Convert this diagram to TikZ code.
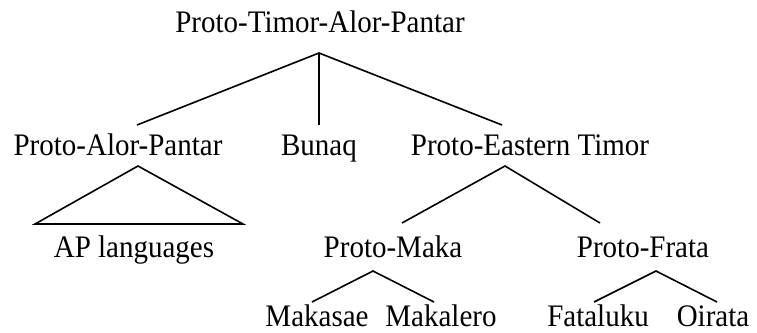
\documentclass[tikz,border=0pt]{standalone}
\usepackage{fontspec}
\usepackage{graphicx}
\setmainfont{Liberation Serif}
\newcommand{\tallt}[1]{\scalebox{1}[1.08]{#1}}
\begin{document}
\begin{tikzpicture}[x=1pt,y=1pt,
  lbl/.style={anchor=base,inner sep=0pt,font=\fontsize{29}{34}\selectfont},
  branch/.style={draw=black,line width=1.6pt,line cap=butt}]
\useasboundingbox (0,0) rectangle (757,-332);
% texts
\node[lbl] (pta) at (320,-32) {\tallt{Proto-Timor-Alor-Pantar}};
\node[lbl] (pap) at (118,-155) {\tallt{Proto-Alor-Pantar}};
\node[lbl] (bun) at (319,-155) {\tallt{Bunaq}};
\node[lbl] (pet) at (530,-155) {\tallt{Proto-Eastern Timor}};
\node[lbl] (apl) at (134,-257) {\tallt{AP languages}};
\node[lbl] (pmk) at (393,-257) {\tallt{Proto-Maka}};
\node[lbl] (pfr) at (643,-257) {\tallt{Proto-Frata}};
\node[lbl] (mks) at (317,-326) {\tallt{Makasae}};
\node[lbl] (mkl) at (441,-326) {\tallt{Makalero}};
\node[lbl] (fat) at (598,-326) {\tallt{Fataluku}};
\node[lbl] (oir) at (713,-326) {\tallt{Oirata}};
% connector points
\coordinate (ptaB) at (319,-53);
\coordinate (papT) at (137,-125);
\coordinate (bunT) at (319,-125);
\coordinate (petT) at (502,-125);
\coordinate (papB) at (138,-166);
\coordinate (aplL) at (35,-224);
\coordinate (aplR) at (243,-224);
\coordinate (petB) at (505,-166);
\coordinate (pmkT) at (402,-223);
\coordinate (pfrT) at (600,-223);
\coordinate (pmkB) at (373,-271);
\coordinate (mksT) at (312,-302);
\coordinate (mklT) at (434,-302);
\coordinate (pfrB) at (656,-271);
\coordinate (fatT) at (594,-302);
\coordinate (oirT) at (717,-302);
% connectors
\draw[branch] (papT) -- (ptaB) -- (petT);
\draw[branch] (ptaB) -- (bunT);
\draw[branch,line join=miter] (papB) -- (aplL) -- (aplR) -- cycle;
\draw[branch] (pmkT) -- (petB) -- (pfrT);
\draw[branch] (mksT) -- (pmkB) -- (mklT);
\draw[branch] (fatT) -- (pfrB) -- (oirT);
\end{tikzpicture}
\end{document}
